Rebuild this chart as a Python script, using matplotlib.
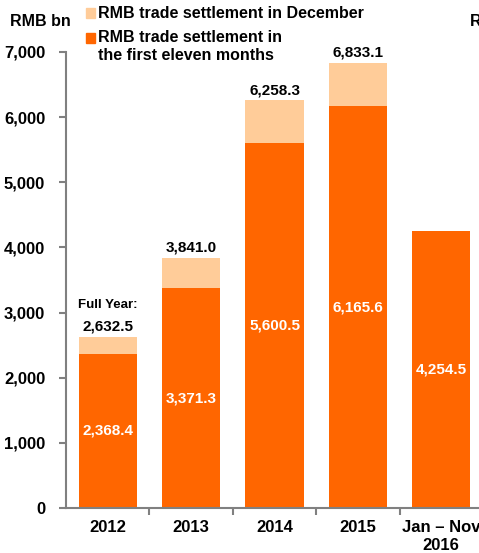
import matplotlib.pyplot as plt
import matplotlib.patches as patches

plt.rcParams['font.family'] = ['Liberation Sans', 'DejaVu Sans']
plt.rcParams['font.weight'] = 'bold'

# data (RMB bn)
years = ['2012', '2013', '2014', '2015', 'Jan \u2013 Nov\n2016']
eleven_months = [2368.4, 3371.3, 5600.5, 6165.6, 4254.5]
full_year = [2632.5, 3841.0, 6258.3, 6833.1, None]

orange = '#FF6600'
peach = '#FFCC99'
grey = '#808080'

W, H = 479, 553
fig = plt.figure(figsize=(W / 100, H / 100), dpi=100)
ax = fig.add_axes([66 / W, 1 - 508 / H, (483 - 66) / W, (508 - 52) / H])

x = list(range(len(years)))
dec = [(f - e) if f is not None else 0 for e, f in zip(eleven_months, full_year)]
ax.bar(x, eleven_months, width=0.7, color=orange, zorder=2)
ax.bar(x, dec, bottom=eleven_months, width=0.7, color=peach, zorder=2)

for i in x:
    ax.text(i, eleven_months[i] / 2, f'{eleven_months[i]:,.1f}', ha='center', va='center',
            color='white', fontsize=11, fontweight='bold')
    if full_year[i] is not None:
        ax.text(i, full_year[i] + 50, f'{full_year[i]:,.1f}', ha='center', va='bottom',
                color='black', fontsize=11, fontweight='bold')
ax.text(0, full_year[0] + 390, 'Full Year:', ha='center', va='bottom', fontsize=9.5, fontweight='bold')

ax.set_xlim(-0.5, 4.5)
ax.set_ylim(0, 7000)
ax.set_yticks(range(0, 7001, 1000))
ax.set_yticklabels([f'{v:,}' for v in range(0, 7001, 1000)], fontsize=12, fontweight='bold')
ax.set_xticks(x)
ax.set_xticklabels(years, fontsize=12, fontweight='bold')
ax.tick_params(axis='x', length=0, pad=9)
ax.set_xticks([i + 0.5 for i in x], minor=True)
ax.tick_params(axis='x', which='minor', length=5, color=grey, width=1.5)
ax.tick_params(axis='y', length=5, color=grey, width=1.5, pad=10)
for s in ['top', 'right']:
    ax.spines[s].set_visible(False)
for s in ['left', 'bottom']:
    ax.spines[s].set_color(grey)
    ax.spines[s].set_linewidth(1.5)

# labels and legend
fig.text(10 / W, 1 - 22 / H, 'RMB bn', fontsize=11.5, fontweight='bold', va='center')
fig.text(470 / W, 1 - 22 / H, 'RMB bn', fontsize=11.5, fontweight='bold', va='center')
fig.patches.append(patches.Rectangle((86 / W, 1 - 18 / H), 9 / W, 10 / H, color=peach,
                                     transform=fig.transFigure, figure=fig))
fig.patches.append(patches.Rectangle((86 / W, 1 - 43 / H), 9 / W, 10 / H, color=orange,
                                     transform=fig.transFigure, figure=fig))
fig.text(98 / W, 1 - 14 / H, 'RMB trade settlement in December', fontsize=11.5,
         fontweight='bold', va='center')
fig.text(98 / W, 1 - 38 / H, 'RMB trade settlement in', fontsize=11.5,
         fontweight='bold', va='center')
fig.text(98 / W, 1 - 56 / H, 'the first eleven months', fontsize=11.5,
         fontweight='bold', va='center')

fig.savefig('out.png', dpi=100)
